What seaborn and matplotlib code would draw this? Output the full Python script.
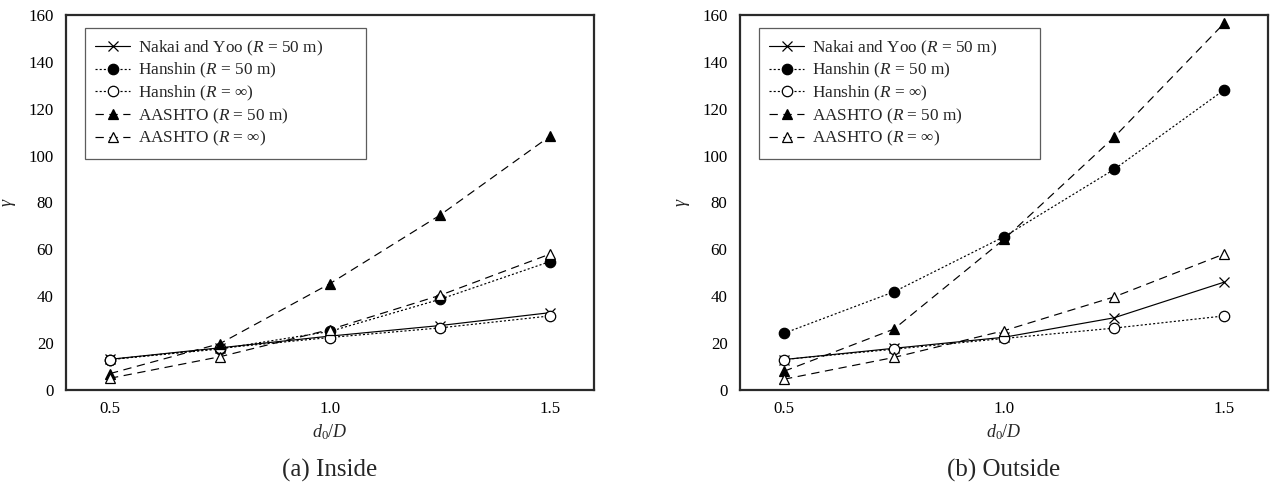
import matplotlib
matplotlib.use("Agg")
import matplotlib.pyplot as plt
import seaborn as sns
import pandas as pd

# d0/D ratios at which gamma was evaluated
ratio = [0.5, 0.75, 1.0, 1.25, 1.5]

# (a) Inside
inside_nakai_50 = [13.1, 18.0, 23.0, 27.5, 33.0]
inside_hanshin_50 = [13.0, 17.5, 25.0, 38.7, 54.8]
inside_hanshin_inf = [13.0, 17.8, 22.4, 26.5, 31.6]
inside_aashto_50 = [7.0, 19.8, 45.4, 74.6, 108.3]
inside_aashto_inf = [5.0, 14.2, 25.8, 40.4, 58.0]

# (b) Outside
outside_nakai_50 = [13.0, 17.8, 22.5, 30.8, 46.0]
outside_hanshin_50 = [24.2, 41.9, 65.4, 94.1, 128.0]
outside_hanshin_inf = [13.0, 17.4, 22.0, 26.4, 31.6]
outside_aashto_50 = [8.0, 26.0, 64.3, 107.8, 156.4]
outside_aashto_inf = [4.6, 13.9, 25.3, 39.7, 58.0]

series_labels = [
    "Nakai and Yoo ($\\it{R}$ = 50 m)",
    "Hanshin ($\\it{R}$ = 50 m)",
    "Hanshin ($\\it{R}$ = ∞)",
    "AASHTO ($\\it{R}$ = 50 m)",
    "AASHTO ($\\it{R}$ = ∞)",
]
panel_titles = ["(a) Inside", "(b) Outside"]
y_ticks = [0, 20, 40, 60, 80, 100, 120, 140, 160]
x_ticks = [0.5, 1.0, 1.5]

panels = [
    [inside_nakai_50, inside_hanshin_50, inside_hanshin_inf, inside_aashto_50, inside_aashto_inf],
    [outside_nakai_50, outside_hanshin_50, outside_hanshin_inf, outside_aashto_50, outside_aashto_inf],
]

sns.set_style("white")
plt.rcParams["font.family"] = ["Liberation Serif", "DejaVu Serif"]
plt.rcParams["mathtext.fontset"] = "custom"
plt.rcParams["mathtext.rm"] = "Liberation Serif"
plt.rcParams["mathtext.it"] = "Liberation Serif:italic"
plt.rcParams["lines.scale_dashes"] = False

dotted = (0, (1.5, 1.5))
dashed = (0, (6.0, 4.0))
styles = [
    dict(linestyle="-", marker="x", markersize=7.5, markerfacecolor="black"),
    dict(linestyle=dotted, marker="o", markersize=7.5, markerfacecolor="black"),
    dict(linestyle=dotted, marker="o", markersize=7.5, markerfacecolor="white"),
    dict(linestyle=dashed, marker="^", markersize=7.5, markerfacecolor="black"),
    dict(linestyle=dashed, marker="^", markersize=7.5, markerfacecolor="white"),
]

W, H = 1271, 484
fig = plt.figure(figsize=(W / 100, H / 100), dpi=100)
lefts = [66, 740]

for i, (left, values) in enumerate(zip(lefts, panels)):
    ax = fig.add_axes([left / W, 94 / H, 528 / W, 375 / H])
    for label, ys, st in zip(series_labels, values, styles):
        df = pd.DataFrame({"ratio": ratio, "gamma": ys})
        sns.lineplot(data=df, x="ratio", y="gamma", ax=ax, color="black",
                     linewidth=0.85, markeredgecolor="black", markeredgewidth=0.9,
                     label=label, **st)
    ax.set_xlim(0.4, 1.6)
    ax.set_ylim(0, 160)
    ax.set_xticks(x_ticks)
    ax.set_xticklabels([f"{t:.1f}" for t in x_ticks])
    ax.set_yticks(y_ticks)
    ax.tick_params(axis="both", length=0, labelsize=12.2, colors="black")
    ax.tick_params(axis="x", pad=8)
    ax.tick_params(axis="y", pad=9)
    for sp in ax.spines.values():
        sp.set_linewidth(1.6)
        sp.set_color("#2a2a2a")
    ax.set_xlabel("$d_0/D$", fontsize=13, labelpad=4)
    ax.set_ylabel("$\\gamma$", fontsize=13, labelpad=7)
    leg = ax.legend(loc="upper left", bbox_to_anchor=(0.036, 0.0, 0.532, 0.965),
                    mode="expand", borderaxespad=0, fontsize=12.4, frameon=True,
                    fancybox=False, shadow=False, labelspacing=0.2,
                    handlelength=2.0, handletextpad=0.5, borderpad=0.6)
    leg.get_frame().set_edgecolor("#333333")
    leg.get_frame().set_linewidth(0.9)
    fig.text((left + 264) / W, 14 / H, panel_titles[i], fontsize=18,
             ha="center", va="center")

fig.savefig("out.png", dpi=100)
